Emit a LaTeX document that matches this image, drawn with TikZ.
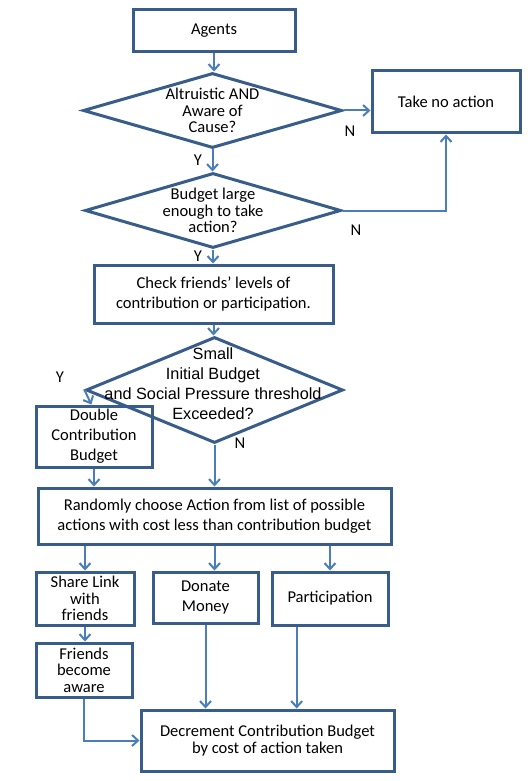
\documentclass[tikz,border=0pt]{standalone}
\usepackage{fontspec}
\setmainfont{Carlito}
\newfontfamily\arialfont{Liberation Sans}
\usepackage{tikz}
\usetikzlibrary{shapes.geometric,arrows.meta,calc}
\definecolor{boxblue}{HTML}{385D8A}
\definecolor{arrowblue}{HTML}{4A7EBB}

\begin{document}
\begin{tikzpicture}[x=0.75pt,y=0.75pt,yscale=-1,xscale=1,
  stepbox/.style={draw=boxblue,line width=2.25pt,inner sep=0pt,align=center,font=\fontsize{12.4}{15}\selectfont},
  tightbox/.style={stepbox,font=\fontsize{12.4}{12.4}\selectfont},
  decision/.style={diamond,draw=boxblue,line width=2.25pt,inner sep=0pt},
  asktext/.style={align=center,inner sep=0pt,font=\fontsize{12.4}{12.4}\selectfont},
  flow/.style={draw=arrowblue,line width=1.5pt,-{Straight Barb[length=4.5pt,width=8.25pt]}},
  yn/.style={inner sep=0pt,font=\fontsize{12.4}{13}\selectfont}]

\useasboundingbox (0,0) rectangle (529,781);

\node[stepbox,minimum width=121.5pt,minimum height=31.5pt] (agents) at (214,31) {Agents};

\node[decision,minimum width=194.25pt,minimum height=56.25pt] (aware) at (212.5,110.5) {};
\node[asktext] (awaretxt) at (aware) {Altruistic AND\\Aware of\\Cause?};

\node[stepbox,minimum width=111pt,minimum height=46.5pt] (noaction) at (446,102) {Take no action};

\node[decision,minimum width=192pt,minimum height=56.25pt] (budget) at (213,210.5) {};
\node[asktext] (budgettxt) at (budget) {Budget large\\enough to take\\action?};

\node[stepbox,minimum width=179.25pt,minimum height=43.5pt] (check) at (213.5,294) {Check friends’ levels of\\contribution or participation.};

\node[stepbox,minimum width=87pt,minimum height=45.75pt] (double) at (94,436.5) {Double\\Contribution\\Budget};

\node[decision,minimum width=192.75pt,minimum height=79.5pt] (pressure) at (214.5,390) {};
\node[align=center,inner sep=0pt,font=\arialfont\fontsize{12.2}{15}\selectfont] (pressuretxt) at (213,383.5) {Small\\Initial Budget\\and Social Pressure threshold\\Exceeded?};

\node[stepbox,minimum width=264.75pt,minimum height=42pt] (random) at (214.5,516) {Randomly choose Action from list of possible\\actions with cost less than contribution budget};

\node[tightbox,minimum width=73.5pt,minimum height=39.75pt] (share) at (85,598.5) {Share Link\\with\\friends};
\node[stepbox,minimum width=78.75pt,minimum height=38.25pt] (donate) at (205.5,597.5) {Donate\\Money};
\node[stepbox,minimum width=87pt,minimum height=39.75pt] (particip) at (330,598.5) {Participation};

\node[tightbox,minimum width=72pt,minimum height=40.5pt] (friends) at (84,670) {Friends\\become\\aware};

\node[tightbox,minimum width=189.75pt,minimum height=45.75pt] (decrement) at (267.5,740.5) {Decrement Contribution Budget\\by cost of action taken};

% Y / N labels
\node[yn] (yaware) at (198,160) {Y};
\node[yn] (naware) at (350,131) {N};
\node[yn] (ybudget) at (198,256) {Y};
\node[yn] (nbudget) at (356,230) {N};
\node[yn] (ypressure) at (60,377) {Y};
\node[yn] (npressure) at (240,443) {N};

% connectors
\draw[flow] (agents.south) -- (agents.south |- aware.north);
\draw[flow] (aware.east) -- (aware.east -| noaction.west);
\draw[flow] (aware.south) -- (aware.south |- budget.north);
\draw[flow] (budget.east) -| (noaction.south);
\draw[flow] (budget.south) -- (budget.south |- check.north);
\draw[flow] (check.south) -- (check.south |- pressure.north);
\draw[flow] (pressure.west) -- ([xshift=-2pt]double.north);
\draw[flow] (pressure.south) -- (pressure.south |- random.north);
\draw[flow] (double.south) -- (double.south |- random.north);

\draw[flow] (share.north |- random.south) -- (share.north);
\draw[flow] (random.south) -- (random.south |- donate.north);
\draw[flow] (particip.north |- random.south) -- (particip.north);

\draw[flow] (share.south) -- (share.south |- friends.north);
\draw[flow] (friends.south) |- (decrement.west);
\draw[flow] (donate.south) -- (donate.south |- decrement.north);
\coordinate (participout) at ($(particip.south west)!0.22!(particip.south east)$);
\draw[flow] (participout) -- (participout |- decrement.north);

\end{tikzpicture}
\end{document}
